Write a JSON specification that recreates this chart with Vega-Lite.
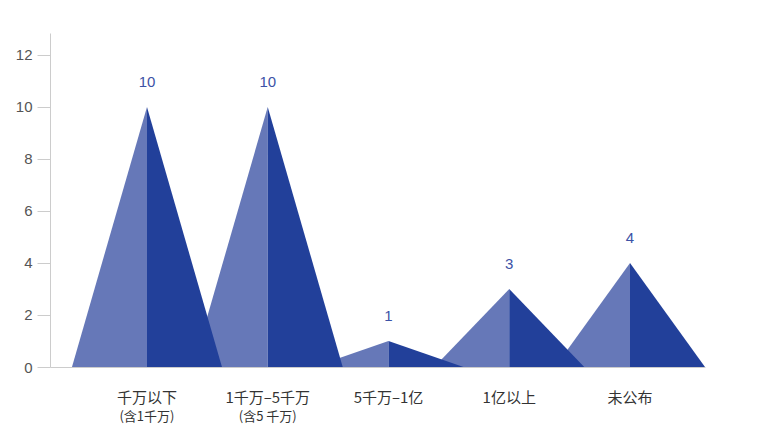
{
  "$schema": "https://vega.github.io/schema/vega-lite/v6.json",
  "autosize": {"type": "none"},
  "padding": {"left": 50, "top": 33, "right": 54, "bottom": 69},
  "width": 655,
  "height": 334,
  "background": "white",
  "config": {"view": {"stroke": null}},
  "data": {
    "values": [
      {"cat": "千万以下", "value": 10, "sub": "(含1千万)"},
      {"cat": "1千万–5千万", "value": 10, "sub": "(含5 千万)"},
      {"cat": "5千万–1亿", "value": 1, "sub": ""},
      {"cat": "1亿以上", "value": 3, "sub": ""},
      {"cat": "未公布", "value": 4, "sub": ""}
    ]
  },
  "transform": [
    {"window": [{"op": "row_number", "as": "rn"}]},
    {"calculate": "datum.rn - 1", "as": "i"}
  ],
  "layer": [
    {
      "transform": [
        {"calculate": "[-0.621, 0]", "as": "dx"},
        {"calculate": "[0, 1]", "as": "h"},
        {"flatten": ["dx", "h"]},
        {"calculate": "datum.i + datum.dx", "as": "px"},
        {"calculate": "datum.value * datum.h", "as": "py"}
      ],
      "mark": {"type": "area", "color": "#6678b8", "interpolate": "linear"},
      "encoding": {
        "x": {"field": "px", "type": "quantitative", "scale": {"domain": [-0.803, 4.621], "nice": false, "zero": false},
              "axis": {"domain": true, "domainColor": "#cccccc", "ticks": false, "labels": false, "grid": false, "title": null}},
        "y": {"field": "py", "type": "quantitative", "stack": null, "scale": {"domain": [0, 12.846], "nice": false},
              "axis": {"values": [0, 2, 4, 6, 8, 10, 12], "grid": false, "title": null, "domainColor": "#cccccc", "tickColor": "#cccccc", "tickSize": 13, "labelPadding": 5, "labelFont": "Liberation Sans", "labelFontSize": 15, "labelColor": "#555555"}},
        "detail": {"field": "cat"}
      }
    },
    {
      "transform": [
        {"calculate": "[0, 0.621]", "as": "dx"},
        {"calculate": "[1, 0]", "as": "h"},
        {"flatten": ["dx", "h"]},
        {"calculate": "datum.i + datum.dx", "as": "px"},
        {"calculate": "datum.value * datum.h", "as": "py"}
      ],
      "mark": {"type": "area", "color": "#22409a", "interpolate": "linear"},
      "encoding": {
        "x": {"field": "px", "type": "quantitative"},
        "y": {"field": "py", "type": "quantitative", "stack": null},
        "detail": {"field": "cat"}
      }
    },
    {
      "mark": {"type": "text", "dy": -20, "baseline": "alphabetic", "font": "Liberation Sans", "fontSize": 15, "color": "#3c52a6"},
      "encoding": {
        "x": {"field": "i", "type": "quantitative"},
        "y": {"field": "value", "type": "quantitative"},
        "text": {"field": "value"}
      }
    },
    {
      "mark": {"type": "text", "dy": 36, "baseline": "alphabetic", "font": "Noto Sans CJK SC", "fontSize": 15, "color": "#333333"},
      "encoding": {
        "x": {"field": "i", "type": "quantitative"},
        "y": {"datum": 0},
        "text": {"field": "cat"}
      }
    },
    {
      "mark": {"type": "text", "dy": 54, "baseline": "alphabetic", "font": "Noto Sans CJK SC", "fontSize": 13, "color": "#333333"},
      "encoding": {
        "x": {"field": "i", "type": "quantitative"},
        "y": {"datum": 0},
        "text": {"field": "sub"}
      }
    }
  ]
}
